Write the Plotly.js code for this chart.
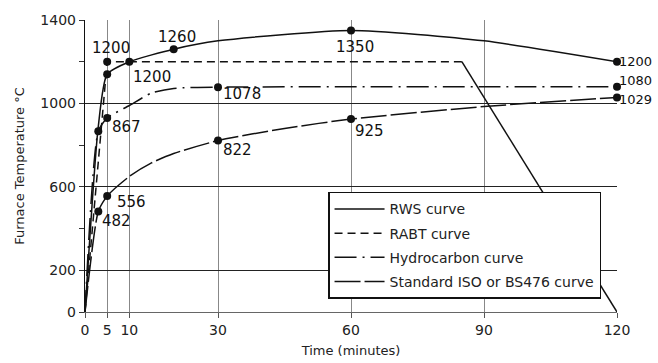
<!DOCTYPE html>
<html>
<head>
<meta charset="utf-8">
<script src="https://cdn.plot.ly/plotly-3.0.1.min.js"></script>
<style>html,body{margin:0;padding:0;background:#fff;}#chart{width:658px;height:363px;}</style>
</head>
<body>
<div id="chart"></div>
<script>
// ---- data ----
const rwsTime  = [0, 3, 5, 10, 20, 30, 60, 90, 120];
const rwsTemp  = [0, 890, 1140, 1200, 1260, 1300, 1350, 1300, 1200];
const rwsMarked = [5, 10, 20, 60, 120];

const rabtTime = [0, 5, 85];
const rabtTemp = [0, 1200, 1200];
const rabtCoolTime = [85, 120];
const rabtCoolTemp = [1200, 0];
const rabtMarked = [5];

const hcTime = [0, 3, 5, 10, 15, 20, 30, 60, 90, 120];
const hcTemp = [0, 867, 930, 990, 1050, 1072, 1078, 1080, 1080, 1080];
const hcMarked = [3, 5, 30, 120];

const isoTime = [0, 3, 5, 10, 15, 20, 30, 45, 60, 90, 120];
const isoTemp = [0, 482, 556, 650, 715, 760, 822, 880, 925, 985, 1029];
const isoMarked = [3, 5, 30, 60, 120];

const seriesNames = ['RWS curve', 'RABT curve', 'Hydrocarbon curve', 'Standard ISO or BS476 curve'];
const xTickVals = [0, 5, 10, 30, 60, 90, 120];
const yTickVals = [0, 200, 600, 1000, 1400];
const yMinorVals = [400, 800, 1200];

// labels: [time array, temp array, time of point, xshift, yshift, xanchor, font size]
const labelSpecs = [
  [rabtTime, rabtTemp, 5, 4, 14, 'center', 15],
  [rwsTime, rwsTemp, 20, 3, 12, 'center', 15],
  [rwsTime, rwsTemp, 60, 4, -17, 'center', 15],
  [rwsTime, rwsTemp, 10, 3, -15, 'left', 15],
  [hcTime, hcTemp, 30, 4, -7, 'left', 15],
  [isoTime, isoTemp, 30, 4, -9, 'left', 15],
  [isoTime, isoTemp, 60, 3, -12, 'left', 15],
  [hcTime, hcTemp, 3, 13, 4, 'left', 15],
  [isoTime, isoTemp, 5, 9, -6, 'left', 15],
  [isoTime, isoTemp, 3, 3, -10, 'left', 15],
  [rwsTime, rwsTemp, 120, 1, 0, 'left', 13],
  [hcTime, hcTemp, 120, 1, 6, 'left', 13],
  [isoTime, isoTemp, 120, 1, -2, 'left', 13]
];

const INK = '#111';
const FONT = 'DejaVu Sans, Arial, sans-serif';

function lineTrace(x, y, name, dash, group, showlegend, shape) {
  return {
    x: x, y: y, name: name, type: 'scatter', mode: 'lines',
    line: {color: INK, width: 1.5, dash: dash, shape: shape, smoothing: 0.6},
    legendgroup: group, showlegend: showlegend, hoverinfo: 'skip'
  };
}
function markerTrace(x, y, marked) {
  const mx = [], my = [];
  x.forEach((t, i) => { if (marked.includes(t)) { mx.push(t); my.push(y[i]); } });
  return {
    x: mx, y: my, type: 'scatter', mode: 'markers', showlegend: false,
    marker: {color: INK, size: 8}, cliponaxis: false, hoverinfo: 'skip'
  };
}

const traces = [
  lineTrace(rwsTime, rwsTemp, seriesNames[0], 'solid', 'g1', true, 'spline'),
  lineTrace(rabtTime, rabtTemp, seriesNames[1], '8px,5px', 'g2', true, 'linear'),
  lineTrace(rabtCoolTime, rabtCoolTemp, seriesNames[1], 'solid', 'g2', false, 'linear'),
  lineTrace(hcTime, hcTemp, seriesNames[2], '22px,6px,2px,6px', 'g3', true, 'spline'),
  lineTrace(isoTime, isoTemp, seriesNames[3], '26px,4px', 'g4', true, 'spline'),
  markerTrace(rwsTime, rwsTemp, rwsMarked),
  markerTrace(rabtTime, rabtTemp, rabtMarked),
  markerTrace(hcTime, hcTemp, hcMarked),
  markerTrace(isoTime, isoTemp, isoMarked)
];

const annotations = labelSpecs.map(s => {
  const idx = s[0].indexOf(s[2]);
  const v = s[1][idx];
  return {
    x: s[2], y: v, xref: 'x', yref: 'y', text: String(v), showarrow: false,
    xanchor: s[5], yanchor: 'middle', xshift: s[3], yshift: s[4], borderpad: 0,
    font: {family: FONT, size: s[6], color: INK}
  };
});

const layout = {
  width: 658, height: 363,
  margin: {l: 85, r: 41, t: 20, b: 51, pad: 0},
  paper_bgcolor: '#fff', plot_bgcolor: '#fff',
  font: {family: FONT, size: 14, color: INK},
  showlegend: true,
  legend: {
    x: 0.97, y: 0.045, xanchor: 'right', yanchor: 'bottom',
    bgcolor: '#fff', bordercolor: INK, borderwidth: 1.5,
    font: {family: FONT, size: 14, color: '#222'},
    traceorder: 'grouped', tracegroupgap: 3, itemwidth: 50
  },
  xaxis: {
    range: [0, 120], tickmode: 'array', tickvals: xTickVals,
    showgrid: true, gridcolor: '#888', gridwidth: 1,
    showline: true, linecolor: '#666', linewidth: 1, mirror: false,
    ticks: 'outside', ticklen: 5, tickcolor: '#555', zeroline: false,
    tickfont: {family: FONT, size: 14, color: '#222'},
    title: {text: 'Time (minutes)', font: {family: FONT, size: 13, color: '#222'}, standoff: 9}
  },
  yaxis: {
    range: [0, 1400], tickmode: 'array', tickvals: yTickVals,
    showgrid: true, gridcolor: '#222', gridwidth: 1,
    showline: true, linecolor: INK, linewidth: 1.2, mirror: false,
    ticks: 'outside', ticklen: 5, tickcolor: '#333', zeroline: false,
    tickfont: {family: FONT, size: 14, color: '#222'},
    minor: {tickmode: 'array', tickvals: yMinorVals, ticks: 'outside', ticklen: 5, tickcolor: '#333', showgrid: false},
    title: {text: 'Furnace Temperature °C', font: {family: FONT, size: 13, color: '#222'}, standoff: 12}
  },
  annotations: annotations
};

Plotly.newPlot('chart', traces, layout, {displayModeBar: false, staticPlot: true});
</script>
</body>
</html>
